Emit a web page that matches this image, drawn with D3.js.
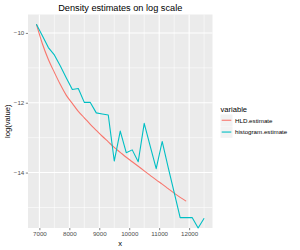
<!DOCTYPE html>
<html>
<head>
<meta charset="utf-8">
<script src="https://cdn.jsdelivr.net/npm/d3@7"></script>
<style>
  html, body { margin: 0; padding: 0; background: #fff; }
  svg { display: block; font-family: "Liberation Sans", Arial, sans-serif; }
</style>
</head>
<body>
<svg id="chart" width="300" height="250"></svg>
<script>
// ---- data ----
const title = "Density estimates on log scale";
const xLabel = "x";
const yLabel = "log(value)";
const legendTitle = "variable";
const seriesNames = ["HLD.estimate", "histogram.estimate"];
const seriesColors = ["#F8766D", "#00BFC4"];

const hldX = [6900, 7100, 7300, 7500, 7700, 7900, 8100, 8300, 8500, 8700, 8900, 9100, 9300,
  9500, 9700, 9900, 10100, 10300, 10500, 10700, 10900, 11100, 11300, 11500, 11700, 11900];
const hldY = [-9.75, -10.31, -10.76, -11.13, -11.48, -11.79, -12.02, -12.25, -12.43, -12.62,
  -12.79, -12.96, -13.12, -13.28, -13.42, -13.56, -13.69, -13.82, -13.95, -14.08, -14.21,
  -14.33, -14.46, -14.59, -14.71, -14.82];

const histX = [6900, 7100, 7300, 7500, 7700, 7900, 8100, 8300, 8500, 8700, 8900, 9100, 9300,
  9500, 9700, 9900, 10100, 10300, 10500, 10700, 10900, 11100, 11300, 11500, 11700, 11900,
  12100, 12300, 12500];
const histY = [-9.75, -10.08, -10.42, -10.63, -10.95, -11.29, -11.62, -11.59, -11.99, -11.99,
  -12.29, -12.32, -12.35, -13.67, -12.81, -13.43, -13.35, -13.69, -12.59, -13.24, -13.89,
  -13.11, -13.85, -14.57, -15.29, -15.29, -15.29, -Infinity, -15.31];

const xTicks = [7000, 8000, 9000, 10000, 11000, 12000];
const xTickLabels = ["7000", "8000", "9000", "10000", "11000", "12000"];
const yTicks = [-10, -12, -14];
const yTickLabels = ["-10", "-12", "-14"];

// ---- layout ----
const svg = d3.select("#chart");
const panel = { left: 28, right: 212.5, top: 14.5, bottom: 228 };

const allX = histX.concat(hldX);
const finiteY = histY.concat(hldY).filter(v => isFinite(v));
const xMin = d3.min(allX), xMax = d3.max(allX);
const yMin = d3.min(finiteY), yMax = d3.max(finiteY);
const xPad = (xMax - xMin) * 0.05, yPad = (yMax - yMin) * 0.05;

const x = d3.scaleLinear().domain([xMin - xPad, xMax + xPad]).range([panel.left, panel.right]);
const y = d3.scaleLinear().domain([yMin - yPad, yMax + yPad]).range([panel.bottom, panel.top]).clamp(true);

// panel background
svg.append("rect")
  .attr("x", panel.left).attr("y", panel.top)
  .attr("width", panel.right - panel.left).attr("height", panel.bottom - panel.top)
  .attr("fill", "#EBEBEB");

// minor grid
const xMinor = xTicks.map(t => t + 500).concat([xTicks[0] - 500]).filter(t => x(t) > panel.left && x(t) < panel.right);
const yMinor = yTicks.map(t => t - 1).concat([yTicks[0] + 1]).filter(t => y(t) > panel.top && y(t) < panel.bottom);
const grid = svg.append("g");
grid.selectAll("line.xminor").data(xMinor).join("line")
  .attr("x1", d => x(d)).attr("x2", d => x(d)).attr("y1", panel.top).attr("y2", panel.bottom)
  .attr("stroke", "#fff").attr("stroke-width", 0.55);
grid.selectAll("line.yminor").data(yMinor).join("line")
  .attr("y1", d => y(d)).attr("y2", d => y(d)).attr("x1", panel.left).attr("x2", panel.right)
  .attr("stroke", "#fff").attr("stroke-width", 0.55);
grid.selectAll("line.xmajor").data(xTicks).join("line")
  .attr("x1", d => x(d)).attr("x2", d => x(d)).attr("y1", panel.top).attr("y2", panel.bottom)
  .attr("stroke", "#fff").attr("stroke-width", 1.1);
grid.selectAll("line.ymajor").data(yTicks).join("line")
  .attr("y1", d => y(d)).attr("y2", d => y(d)).attr("x1", panel.left).attr("x2", panel.right)
  .attr("stroke", "#fff").attr("stroke-width", 1.1);

// axes
const xAxis = d3.axisBottom(x).tickValues(xTicks).tickFormat((d, i) => xTickLabels[i]).tickSize(2.2).tickPadding(1.5);
const yAxis = d3.axisLeft(y).tickValues(yTicks).tickFormat((d, i) => yTickLabels[i].replace("-", "\u2212")).tickSize(2.2).tickPadding(1.5);

const gx = svg.append("g").attr("transform", `translate(0,${panel.bottom})`).call(xAxis);
const gy = svg.append("g").attr("transform", `translate(${panel.left},0)`).call(yAxis);
[gx, gy].forEach(g => {
  g.select(".domain").remove();
  g.selectAll(".tick line").attr("stroke", "#333").attr("stroke-width", 0.6);
  g.selectAll(".tick text").attr("fill", "#4D4D4D").attr("font-size", 6.2)
    .attr("font-family", "Liberation Sans, Arial, sans-serif");
});

// lines
const lineGen = d3.line().x(d => x(d[0])).y(d => y(d[1]));
const series = [
  { name: seriesNames[0], color: seriesColors[0], pts: d3.zip(hldX, hldY), curve: d3.curveMonotoneX },
  { name: seriesNames[1], color: seriesColors[1], pts: d3.zip(histX, histY), curve: d3.curveLinear }
];
series.forEach(s => {
  svg.append("path")
    .attr("d", lineGen.curve(s.curve)(s.pts))
    .attr("fill", "none").attr("stroke", s.color).attr("stroke-width", 1.1)
    .attr("stroke-linejoin", "round");
});

// title
svg.append("text").attr("x", (panel.left + panel.right) / 2).attr("y", 11)
  .attr("text-anchor", "middle").attr("font-size", 9.2).attr("fill", "#000").text(title);

// axis titles
svg.append("text").attr("x", (panel.left + panel.right) / 2).attr("y", 246)
  .attr("text-anchor", "middle").attr("font-size", 7.6).attr("fill", "#000").text(xLabel);
svg.append("text").attr("transform", `translate(10,${(panel.top + panel.bottom) / 2}) rotate(-90)`)
  .attr("text-anchor", "middle").attr("font-size", 7.6).attr("fill", "#000").text(yLabel);

// legend
const lg = svg.append("g").attr("transform", "translate(220.5,0)");
lg.append("text").attr("x", 0).attr("y", 111.5).attr("font-size", 7.6).attr("fill", "#000").text(legendTitle);
series.forEach((s, i) => {
  const ky = 114.5 + i * 11.8;
  lg.append("rect").attr("x", 0).attr("y", ky).attr("width", 12).attr("height", 11.5).attr("fill", "#F2F2F2");
  lg.append("line").attr("x1", 1.2).attr("x2", 10.8).attr("y1", ky + 5.75).attr("y2", ky + 5.75)
    .attr("stroke", s.color).attr("stroke-width", 1.1);
  lg.append("text").attr("x", 14.5).attr("y", ky + 8).attr("font-size", 6.2).attr("fill", "#000").text(s.name);
});
</script>
</body>
</html>
